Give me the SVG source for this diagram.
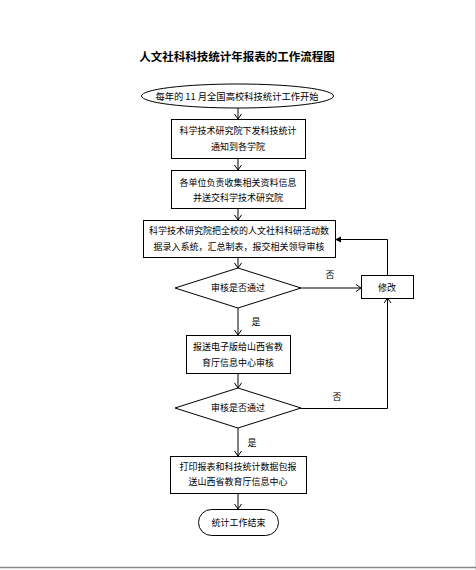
<svg xmlns="http://www.w3.org/2000/svg" width="476" height="570" viewBox="0 0 476 570">
<style>
text{font-family:"Noto Sans CJK SC","Noto Sans",sans-serif;font-size:9px;fill:#000;text-anchor:middle}
.title{font-size:11.5px;font-weight:bold}
.shape{fill:#fff;stroke:#000;stroke-width:1}
.conn{fill:none;stroke:#000;stroke-width:1}
</style>
<defs>
<marker id="v" markerUnits="userSpaceOnUse" markerWidth="10" markerHeight="10" refX="6" refY="4" orient="auto">
<path d="M1,0.5 L6,4 L1,7.5" fill="none" stroke="#000" stroke-width="1"/>
</marker>
<marker id="f" markerUnits="userSpaceOnUse" markerWidth="10" markerHeight="10" refX="6" refY="3" orient="auto">
<path d="M0,0 L6,3 L0,6 Z" fill="#000"/>
</marker>
</defs>
<rect x="0" y="0" width="476" height="570" fill="#fff"/>
<line x1="475.5" y1="0" x2="475.5" y2="570" stroke="#ddd" stroke-width="1"/>
<line x1="0" y1="567.5" x2="476" y2="567.5" stroke="#888" stroke-width="1.5"/>
<text class="title" x="237" y="61">人文社科科技统计年报表的工作流程图</text>

<g id="connectors">
<line class="conn" x1="238" y1="108" x2="238" y2="119" marker-end="url(#v)"/>
<line class="conn" x1="238" y1="158" x2="238" y2="170" marker-end="url(#v)"/>
<line class="conn" x1="238" y1="208" x2="238" y2="220" marker-end="url(#v)"/>
<line class="conn" x1="238" y1="257" x2="238" y2="268" marker-end="url(#v)"/>
<line class="conn" x1="301" y1="288" x2="361" y2="288" marker-end="url(#v)"/>
<polyline class="conn" points="387.5,275 387.5,239.5 335,239.5" marker-end="url(#f)"/>
<line class="conn" x1="238" y1="308" x2="238" y2="335" marker-end="url(#v)"/>
<line class="conn" x1="238" y1="373" x2="238" y2="388" marker-end="url(#v)"/>
<polyline class="conn" points="301,408.5 387.5,408.5 387.5,298" marker-end="url(#v)"/>
<line class="conn" x1="238" y1="428" x2="238" y2="456" marker-end="url(#v)"/>
<line class="conn" x1="238" y1="493" x2="238" y2="509" marker-end="url(#v)"/>
<text x="330" y="278">否</text>
<text x="256" y="325">是</text>
<text x="337" y="400">否</text>
<text x="252" y="446">是</text>
</g>

<g id="start">
<ellipse class="shape" cx="237.5" cy="96" rx="96" ry="12"/>
<text x="237" y="99.5" style="font-size:9.3px">每年的 11 月全国高校科技统计工作开始</text>
</g>
<g id="box1">
<rect class="shape" x="171.5" y="119.5" width="134" height="39"/>
<text x="238" y="134">科学技术研究院下发科技统计</text>
<text x="238" y="150">通知到各学院</text>
</g>
<g id="box2">
<rect class="shape" x="171.5" y="170.5" width="134" height="38"/>
<text x="238" y="186">各单位负责收集相关资料信息</text>
<text x="238" y="201">并送交科学技术研究院</text>
</g>
<g id="box3">
<rect class="shape" x="143.5" y="220.5" width="192" height="37"/>
<text x="239" y="234">科学技术研究院把全校的人文社科科研活动数</text>
<text x="239" y="250">据录入系统，汇总制表，报交相关领导审核</text>
</g>
<g id="decision1">
<polygon class="shape" points="238,268 301,288 238,308 175,288"/>
<text x="238" y="291">审核是否通过</text>
</g>
<g id="modify">
<rect class="shape" x="361.5" y="275.5" width="52" height="23"/>
<text x="387" y="290.5">修改</text>
</g>
<g id="box4">
<rect class="shape" x="186.5" y="335.5" width="104" height="38"/>
<text x="238" y="350">报送电子版给山西省教</text>
<text x="238" y="366">育厅信息中心审核</text>
</g>
<g id="decision2">
<polygon class="shape" points="238,388 301,408 238,428 175,408"/>
<text x="238" y="411">审核是否通过</text>
</g>
<g id="box5">
<rect class="shape" x="170.5" y="456.5" width="136" height="37"/>
<text x="238" y="470">打印报表和科技统计数据包报</text>
<text x="238" y="485">送山西省教育厅信息中心</text>
</g>
<g id="end">
<rect class="shape" x="198.5" y="509.5" width="80" height="26" rx="13"/>
<text x="238.5" y="525.5">统计工作结束</text>
</g>
</svg>
